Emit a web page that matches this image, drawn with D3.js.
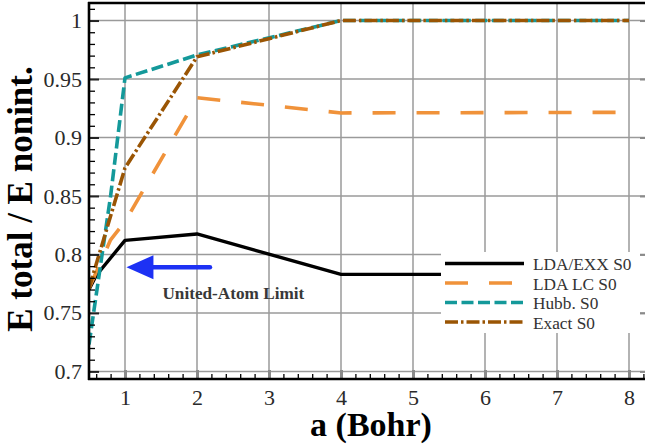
<!DOCTYPE html>
<html><head><meta charset="utf-8">
<script src="https://cdn.jsdelivr.net/npm/d3@7"></script>
<style>
html,body{margin:0;padding:0;background:#fff;}
svg text{font-family:"Liberation Serif","DejaVu Serif",serif !important;}
</style></head>
<body><svg id="chart" width="645" height="446"></svg>
<script>
// ---- data ----
const xTicks = [1, 2, 3, 4, 5, 6, 7, 8];
const yTicks = [0.7, 0.75, 0.8, 0.85, 0.9, 0.95, 1];
const yTickLabels = ["0.7", "0.75", "0.8", "0.85", "0.9", "0.95", "1"];
const ldaExxA = [0.5, 0.6, 1, 2, 4, 8];
const ldaExx  = [0.770, 0.782, 0.812, 0.8175, 0.783, 0.783];
const ldaLcA  = [0.5, 0.8, 1, 2, 4, 8];
const ldaLc   = [0.771, 0.8125, 0.828, 0.934, 0.921, 0.9215];
const hubbA   = [0.5, 0.8, 1, 2, 4, 8];
const hubb    = [0.723, 0.85, 0.951, 0.9705, 1.0, 1.0];
const exactA  = [0.5, 1, 2, 4, 8];
const exact   = [0.771, 0.874, 0.969, 1.0, 1.0];
const seriesNames = ["LDA/EXX S0", "LDA LC S0", "Hubb. S0", "Exact S0"];
const arrowFrom = [2.18, 0.789];
const arrowTo   = [1.02, 0.789];
const noteText  = "United-Atom Limit";
const notePos   = [1.52, 0.7615];

const svg = d3.select("#chart");
const L = 89, R = 647, T = 3, B = 379;
const x = d3.scaleLinear().domain([0.5, 8.25]).range([L, R]);
const y = d3.scaleLinear().domain([0.6935, 1.015]).range([B, T]);

const styles = [
  {color: "#000000", dash: null, w: 3.4},
  {color: "#f0923a", dash: "23,21", w: 3.6},
  {color: "#14999a", dash: "12,4.5", w: 3.6},
  {color: "#9a5504", dash: "13,3,2.5,3", w: 3.6}
];
const series = [
  ldaExxA.map((a,i)=>[a, ldaExx[i]]),
  ldaLcA.map((a,i)=>[a, ldaLc[i]]),
  hubbA.map((a,i)=>[a, hubb[i]]),
  exactA.map((a,i)=>[a, exact[i]])
];

// grid
const grid = svg.append("g");
grid.selectAll(".gx").data(xTicks).join("line")
  .attr("x1", d=>x(d)).attr("x2", d=>x(d)).attr("y1", T).attr("y2", B)
  .attr("stroke", "#9a9a9a").attr("stroke-width", 1.5);
grid.selectAll(".gy").data(yTicks).join("line")
  .attr("x1", L).attr("x2", R).attr("y1", d=>y(d)).attr("y2", d=>y(d))
  .attr("stroke", "#9a9a9a").attr("stroke-width", 1.5);

// clip
svg.append("clipPath").attr("id","clip").append("rect")
  .attr("x", L).attr("y", T).attr("width", R-L).attr("height", B-T);

const line = d3.line().x(d=>x(d[0])).y(d=>y(d[1]));
const lines = svg.append("g").attr("clip-path","url(#clip)");
series.forEach((s,i)=>{
  lines.append("path").attr("d", line(s)).attr("fill","none")
    .attr("stroke", styles[i].color).attr("stroke-width", styles[i].w)
    .attr("stroke-dasharray", styles[i].dash)
    .attr("stroke-linejoin","round");
});

// minor tick values
const xMinor = d3.range(0.6, 8.25, 0.2).filter(v=>Math.abs(v-Math.round(v))>0.05);
const yMinor = d3.range(0.70, 1.0101, 0.01).filter(v=>Math.abs(v*20-Math.round(v*20))>0.05);

// bottom axis
const xAxis = svg.append("g").attr("transform",`translate(0,${B})`);
xAxis.append("g").call(d3.axisBottom(x).tickValues(xMinor).tickSize(-5).tickFormat(""))
  .call(g=>g.select(".domain").remove())
  .call(g=>g.selectAll("line").attr("stroke","#000").attr("stroke-width",1.3));
xAxis.append("g").call(d3.axisBottom(x).tickValues(xTicks).tickSize(-9).tickPadding(10).tickFormat(d3.format("d")))
  .call(g=>g.select(".domain").remove())
  .call(g=>g.selectAll("line").attr("stroke","#8a8a8a").attr("stroke-width",3))
  .call(g=>g.selectAll("text").attr("font-size",22).attr("fill","#2a2a2a"));
svg.append("line").attr("x1",L-1).attr("x2",645).attr("y1",B).attr("y2",B)
  .attr("stroke","#000").attr("stroke-width",2.6);

// left axis
const yAxis = svg.append("g").attr("transform",`translate(${L},0)`);
yAxis.append("g").call(d3.axisLeft(y).tickValues(yMinor).tickSize(-6).tickFormat(""))
  .call(g=>g.select(".domain").remove())
  .call(g=>g.selectAll("line").attr("stroke","#000").attr("stroke-width",1.3));
yAxis.append("g").call(d3.axisLeft(y).tickValues(yTicks).tickSize(-10).tickPadding(7)
    .tickFormat((d,i)=>yTickLabels[i]))
  .call(g=>g.select(".domain").remove())
  .call(g=>g.selectAll("line").attr("stroke","#222").attr("stroke-width",2))
  .call(g=>g.selectAll("text").attr("font-size",22).attr("fill","#2a2a2a"));
svg.append("line").attr("x1",L).attr("x2",L).attr("y1",T-1).attr("y2",B+1)
  .attr("stroke","#000").attr("stroke-width",2.6);

// right axis (inward ticks, mostly off-canvas)
const rAxis = svg.append("g").attr("transform",`translate(${R},0)`);
rAxis.append("g").call(d3.axisRight(y).tickValues(yTicks).tickSize(-7).tickFormat(""))
  .call(g=>g.select(".domain").remove())
  .call(g=>g.selectAll("line").attr("stroke","#8a8a8a").attr("stroke-width",2));

// top frame
svg.append("line").attr("x1",L-1).attr("x2",645).attr("y1",T).attr("y2",T)
  .attr("stroke","#000").attr("stroke-width",2.6);

// legend
const lg = svg.append("g");
lg.append("rect").attr("x",441).attr("y",252).attr("width",199).attr("height",81).attr("fill","#fff");
seriesNames.forEach((n,i)=>{
  const ly = 263.5 + i*19.5;
  lg.append("line").attr("x1",445).attr("x2",524).attr("y1",ly).attr("y2",ly)
    .attr("stroke",styles[i].color).attr("stroke-width",styles[i].w)
    .attr("stroke-dasharray",styles[i].dash);
  lg.append("text").attr("x",533).attr("y",ly+6.5).text(n)
    .attr("font-size",17.3).attr("fill","#333");
});

// annotation
const ax0 = x(arrowFrom[0]), ay = y(arrowFrom[1]), ax1 = x(arrowTo[0]);
svg.append("line").attr("x1",ax0).attr("x2",ax1+26).attr("y1",ay).attr("y2",ay)
  .attr("stroke","#1d31f4").attr("stroke-width",4.5).attr("stroke-linecap","round");
svg.append("path").attr("d",`M${ax1},${ay} L${ax1+27},${ay-12} L${ax1+27},${ay+12} Z`)
  .attr("fill","#1d31f4");
svg.append("text").attr("x",x(notePos[0])).attr("y",y(notePos[1])).text(noteText)
  .attr("font-size",17.2).attr("font-weight","bold").attr("fill","#383838");

// axis titles
svg.append("text").attr("x",371).attr("y",436).attr("text-anchor","middle")
  .attr("font-size",34).attr("font-weight","bold").attr("fill","#000").text("a (Bohr)");
svg.append("text").attr("transform","translate(32,199) rotate(-90)").attr("text-anchor","middle")
  .attr("font-size",35).attr("font-weight","bold").attr("fill","#000").text("E total / E nonint.");
</script></body></html>
